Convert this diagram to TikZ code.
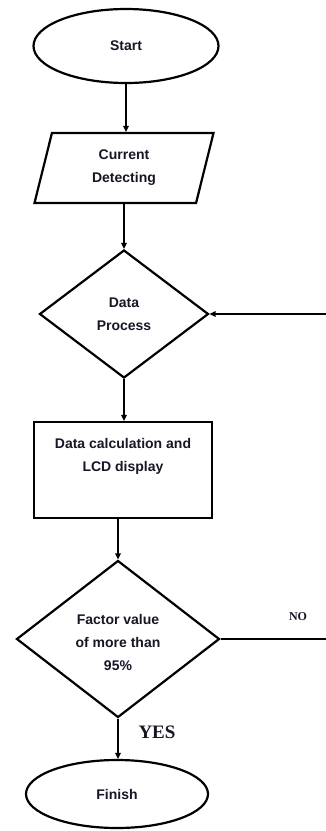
\documentclass[tikz,border=0pt]{standalone}
\usepackage{fontspec}
\setmainfont{Liberation Sans}
\newfontfamily\serifb{Liberation Serif}
\usetikzlibrary{shapes.geometric,arrows.meta}
\definecolor{txt}{RGB}{22,22,38}
\tikzset{
  shape line/.style={draw=black, line width=2.2pt, text=txt, align=center, inner sep=0pt,
    font=\bfseries\fontsize{14}{23}\selectfont},
  termbox/.style={shape line, ellipse},
  iobox/.style={shape line, trapezium, trapezium left angle=64, trapezium right angle=116,
    trapezium stretches body=true},
  decbox/.style={shape line, diamond},
  procbox/.style={shape line, rectangle},
  arr/.style={line width=1.4pt, -{Triangle[length=6pt,width=5.5pt]}},
  plain/.style={line width=1.4pt},
}
\begin{document}
\begin{tikzpicture}[x=1pt,y=-1pt]
\useasboundingbox (0,0) rectangle (326,831);
\node[termbox, minimum width=185pt, minimum height=74pt] (start) at (126,46) {Start};
\node[iobox, minimum width=179pt, minimum height=70pt] (io) at (124,168) {Current\\Detecting};
\node[decbox, minimum width=169pt, minimum height=128pt] (d1) at (124,314) {Data\\Process};
\node[procbox, minimum width=178pt, minimum height=96pt] (calc) at (123,470) {Data calculation and\\LCD display\\\strut};
\node[decbox, minimum width=203pt, minimum height=157pt] (d2) at (118,639) {\\[-6pt]Factor value\\of more than\\95\%};
\node[termbox, minimum width=182pt, minimum height=68pt] (fin) at (117,794) {Finish};
\coordinate (back) at (326,314);
\coordinate (noend) at (326,639);
\node[text=txt, font=\serifb\bfseries\fontsize{12}{14}\selectfont] (no) at (298,617) {NO};
\node[text=txt, font=\serifb\bfseries\fontsize{19}{22}\selectfont] (yes) at (157,732) {YES};
\draw[arr] (start.south) -- (start.south |- io.north);
\draw[arr] (io.south -| d1.north) -- (d1.north);
\draw[arr] (d1.south) -- (d1.south |- calc.north);
\draw[arr] (calc.south -| d2.north) -- (d2.north);
\draw[arr] (d2.south) -- (d2.south |- fin.north);
\draw[arr] (back) -- (d1.east);
\draw[plain] (d2.east) -- (noend);
\end{tikzpicture}
\end{document}
